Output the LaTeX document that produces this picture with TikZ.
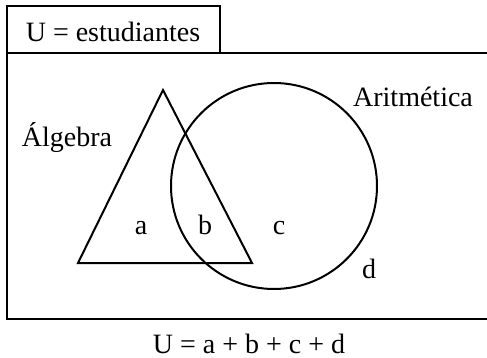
\documentclass[tikz,border=0pt]{standalone}
\usepackage{fontspec}
\setmainfont{Liberation Serif}
\usepackage{tikz}
\usetikzlibrary{positioning}

\begin{document}
\begin{tikzpicture}[
    x=1pt, y=-1pt,
    txt/.style={font=\fontsize{28}{33}\selectfont, anchor=base, inner sep=0pt},
    frame/.style={line width=2.3pt},
    setline/.style={line width=2pt, line join=miter},
]
\useasboundingbox (0,0) rectangle (487,358);

% Universe box with its title tab
\draw[frame] (7,53) rectangle (220,6);
\node[txt] (title) at (113,42) {U = estudiantes};
\draw[frame] (500,53) -- (7,53) -- (7,319) -- (500,319);

% Algebra (triangle)
\coordinate (apex) at (163,90);
\coordinate (baseL) at (78,263);
\coordinate (baseR) at (252,263);
\draw[setline] (apex) -- (baseL) -- (baseR) -- cycle;

% Aritmetica (circle)
\node[circle, draw, setline, minimum size=206pt, inner sep=0pt] (arit) at (274,186) {};

% Set names
\node[txt] (algebra) at (67,147) {Álgebra};
\node[txt] (aritmetica) at (413,107) {Aritmética};

% Regions
\node[txt] (a) at (141,234) {a};
\node[txt] (b) at (205,234) {b};
\node[txt] (c) at (279,234) {c};
\node[txt] (d) at (369,278) {d};

% Total
\node[txt] (suma) at (249,353) {U = a + b + c + d};

\end{tikzpicture}
\end{document}
